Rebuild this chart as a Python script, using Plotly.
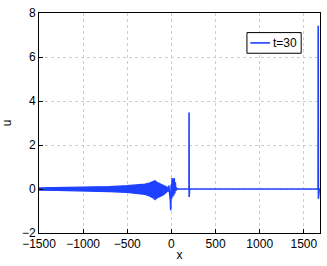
import plotly.graph_objects as go

# Wave packet envelope (dense oscillation drawn as band)
env_x = [-1500, -1300, -1100, -900, -700, -500, -400, -300, -250, -200, -185, -170, -150, -130, -110, -90, -70, -50]
env_upper = [0.05, 0.06, 0.07, 0.09, 0.11, 0.15, 0.18, 0.22, 0.27, 0.34, 0.38, 0.32, 0.28, 0.25, 0.22, 0.18, 0.12, 0.08]
env_lower = [-0.05, -0.06, -0.07, -0.09, -0.12, -0.16, -0.20, -0.25, -0.32, -0.42, -0.48, -0.42, -0.36, -0.33, -0.30, -0.26, -0.20, -0.12]

# Oscillations near the origin, then baseline with two solitary spikes
core_x = [-50, -40, -30, -20, -12, -8, -3, 2, 8, 14, 20, 26, 32, 38, 44, 50, 58, 70,
          195, 199, 200, 201, 205, 1655, 1661, 1663, 1665, 1675, 1690]
core_y = [0.08, -0.12, 0.15, -0.2, -0.5, -0.97, 0.2, -0.45, 0.5, -0.35, 0.45, -0.3, 0.5, -0.2, 0.3, -0.08, 0.04, 0.0,
          0.0, 0.0, 3.48, -0.36, 0.0, 0.0, 0.0, 7.42, -0.44, 0.0, 0.0]

legend_label = "t=30"

color = "rgb(30,64,255)"
font_family = "Liberation Sans, Arial, sans-serif"

fig = go.Figure()
fig.add_trace(go.Scatter(
    x=env_x + env_x[::-1], y=env_upper + env_lower[::-1],
    fill="toself", fillcolor=color, mode="lines",
    line=dict(color=color, width=1.2), showlegend=False, hoverinfo="skip"))
fig.add_trace(go.Scatter(
    x=core_x, y=core_y, mode="lines", name=legend_label, showlegend=False,
    line=dict(color=color, width=1.6)))

axis_common = dict(
    showgrid=True, gridcolor="rgb(205,205,205)", griddash="dot", gridwidth=1,
    zeroline=False, ticks="inside", ticklen=4, tickcolor="black",
    showline=True, linecolor="black", linewidth=1, mirror=True,
    tickfont=dict(family=font_family, size=12, color="black"),
)

# Compact MATLAB-style legend box
fig.add_shape(type="rect", xref="paper", yref="paper", x0=0.740, x1=0.933, y0=0.817, y1=0.911,
              line=dict(color="black", width=1), fillcolor="white", layer="above")
fig.add_shape(type="line", xref="paper", yref="paper", x0=0.752, x1=0.822, y0=0.864, y1=0.864,
              line=dict(color=color, width=1.6), layer="above")
fig.add_annotation(xref="paper", yref="paper", x=0.826, y=0.864, xanchor="left", yanchor="middle",
                   text=legend_label, showarrow=False, font=dict(family=font_family, size=12, color="black"))

fig.update_layout(
    width=327, height=266,
    margin=dict(l=36, r=6, t=10, b=32),
    paper_bgcolor="white", plot_bgcolor="white",
    font=dict(family=font_family, size=12, color="black"),
    xaxis=dict(range=[-1500, 1683], tickvals=[-1500, -1000, -500, 0, 500, 1000, 1500],
               ticktext=["\u22121500", "\u22121000", "\u2212500", "0", "500", "1000", "1500"],
               title=dict(text="x", standoff=0, font=dict(size=12)), **axis_common),
    yaxis=dict(range=[-2, 8], tickvals=[-2, 0, 2, 4, 6, 8],
               ticktext=["\u22122", "0", "2", "4", "6", "8"],
               title=dict(text="u", standoff=8, font=dict(size=12)), **axis_common),
    showlegend=False,
)

fig.write_html("out.html", config={"displayModeBar": False},
               post_script="document.body.style.margin='0';document.body.style.padding='0';")
